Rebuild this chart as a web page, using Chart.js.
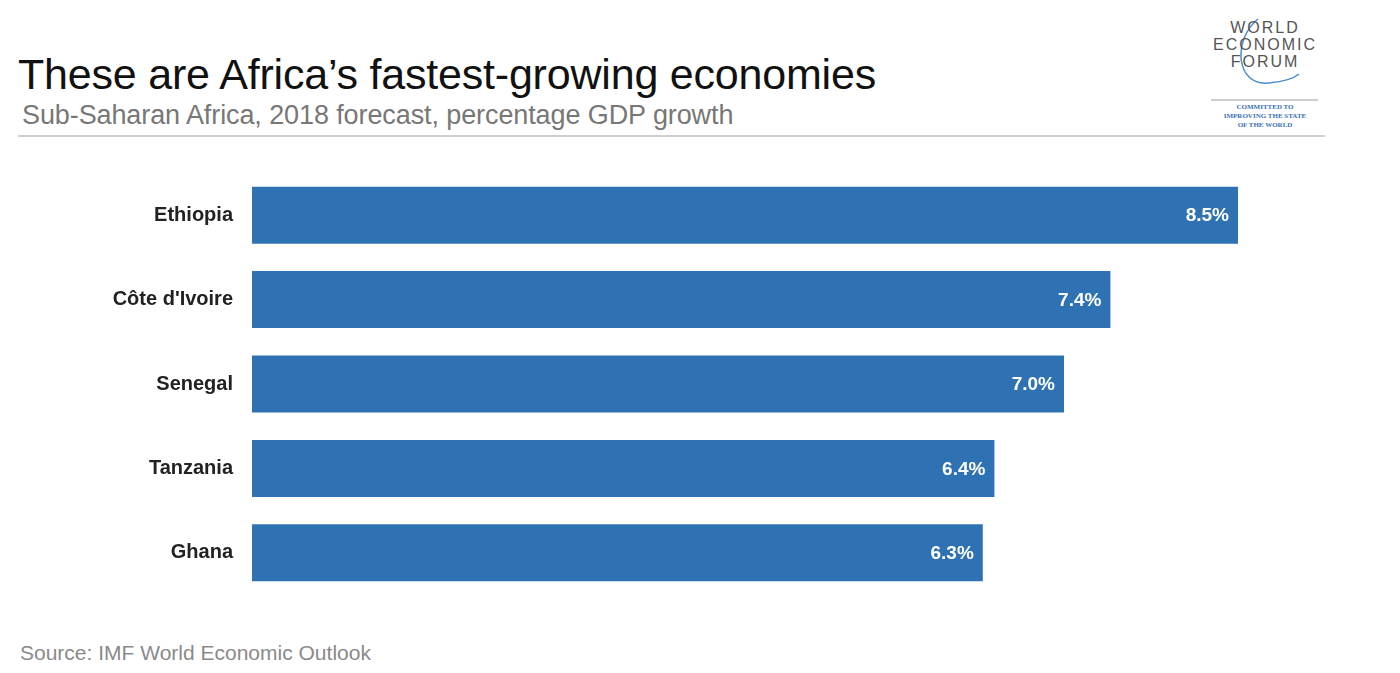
<!DOCTYPE html>
<html>
<head>
<meta charset="utf-8">
<script src="https://cdn.jsdelivr.net/npm/chart.js@4.4.1/dist/chart.umd.min.js"></script>
<style>
  body { margin: 0; background: #fff; width: 1400px; height: 673px; overflow: hidden; position: relative; font-family: "Liberation Sans", Arial, sans-serif; }
  #title { position: absolute; left: 18px; top: 50px; font-size: 43px; color: #111; white-space: nowrap; letter-spacing: -0.2px; }
  #subtitle { position: absolute; left: 22px; top: 100px; font-size: 27px; color: #777; white-space: nowrap; letter-spacing: -0.1px; }
  #rule { position: absolute; left: 18px; top: 135px; width: 1307px; height: 2px; background: #cfcfcf; }
  #source { position: absolute; left: 20px; top: 641px; font-size: 21px; color: #8a8a8a; white-space: nowrap; }
  /* chart.js leaves ~31px above and below the bars here, so the box is taller than the plot */
  #chartbox { position: absolute; left: 0; top: 142px; width: 1238px; height: 484px; }
  .logo { position: absolute; text-align: center; color: #555; font-size: 16px; letter-spacing: 2px; white-space: nowrap; }
  .tag { position: absolute; left: 1205px; width: 120px; text-align: center; color: #3b6fb6; font-family: "Liberation Serif", serif; font-weight: bold; font-size: 7px; line-height: 9px; }
</style>
</head>
<body>
<div id="title">These are Africa’s fastest-growing economies</div>
<div id="subtitle">Sub-Saharan Africa, 2018 forecast, percentage GDP growth</div>
<div id="rule"></div>

<svg style="position:absolute;left:0;top:0" width="1400" height="140">
  <path d="M1258,19 C1232,40 1236,86 1268,83 C1283,82 1294,78 1299,74" fill="none" stroke="#4a8ccc" stroke-width="1.5"/>
  <line x1="1211" y1="100" x2="1318" y2="100" stroke="#bdbdbd" stroke-width="1.5"/>
</svg>
<div class="logo" style="left:1205px;width:120px;top:19px">WORLD</div>
<div class="logo" style="left:1205px;width:120px;top:36px">ECONOMIC</div>
<div class="logo" style="left:1205px;width:120px;top:53px">FORUM</div>
<div class="tag" style="top:103px">COMMITTED TO<br>IMPROVING THE STATE<br>OF THE WORLD</div>

<div id="chartbox"><canvas id="bars"></canvas></div>
<div id="source">Source: IMF World Economic Outlook</div>

<script>
const countries = ['Ethiopia', "Côte d'Ivoire", 'Senegal', 'Tanzania', 'Ghana'];
const growth = [8.5, 7.4, 7.0, 6.4, 6.3];
const barColor = '#2f72b3';

// writes the value inside the right end of each bar
const valueLabels = {
  id: 'valueLabels',
  afterDatasetsDraw(chart) {
    const ctx = chart.ctx;
    const meta = chart.getDatasetMeta(0);
    ctx.save();
    ctx.font = 'bold 19px "Liberation Sans", Arial, sans-serif';
    ctx.fillStyle = '#ffffff';
    ctx.textAlign = 'right';
    ctx.textBaseline = 'middle';
    meta.data.forEach((bar, i) => {
      ctx.fillText(growth[i].toFixed(1) + '%', bar.x - 9, bar.y + 1);
    });
    ctx.restore();
  }
};

const ctx = document.getElementById('bars').getContext('2d');
const chart = new Chart(ctx, {
  type: 'bar',
  data: {
    labels: countries,
    datasets: [{
      data: growth,
      backgroundColor: barColor,
      borderWidth: 0,
      categoryPercentage: 1,
      barPercentage: 0.675
    }]
  },
  options: {
    indexAxis: 'y',
    responsive: true,
    maintainAspectRatio: false,
    animation: false,
    layout: { padding: 0 },
    plugins: {
      legend: { display: false },
      tooltip: { enabled: false }
    },
    scales: {
      x: { display: false, min: 0, max: 8.5 },
      y: {
        grid: { display: false, drawTicks: false },
        border: { display: false },
        ticks: {
          color: '#222',
          padding: 19,
          font: { family: '"Liberation Sans", Arial, sans-serif', size: 20, weight: 'bold' }
        },
        afterFit: scale => { scale.width = 252; }
      }
    }
  },
  plugins: [valueLabels]
});
</script>
</body>
</html>
